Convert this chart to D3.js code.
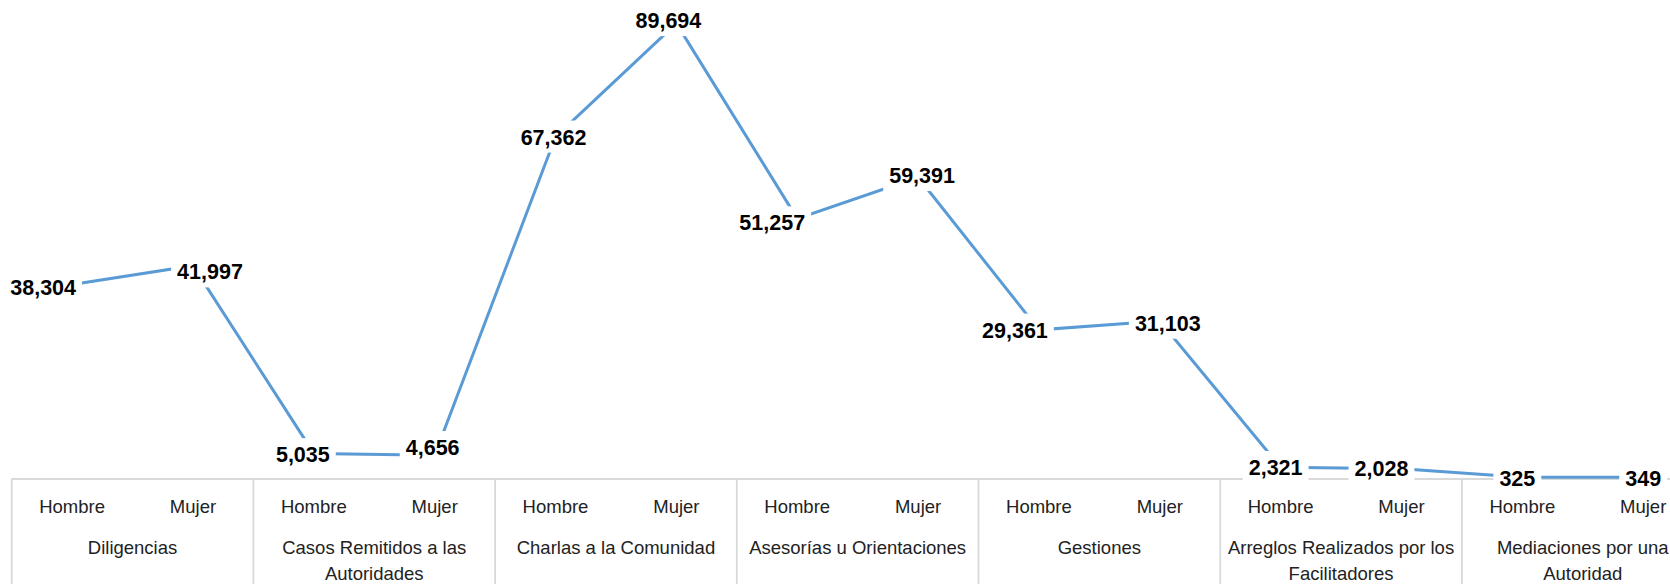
<!DOCTYPE html>
<html lang="es">
<head>
<meta charset="UTF-8">
<title>Chart</title>
<style>
  body { margin: 0; background: #fff; overflow: hidden; }
  .grid { stroke: #d9d9d9; stroke-width: 1.8px; }
  .sub, .cat { font-family: "Liberation Sans", Arial, sans-serif; font-size: 18.5px; fill: #222; }
  .val { font-family: "Liberation Sans", Arial, sans-serif; font-size: 21.5px; font-weight: bold; fill: #000; }
</style>
</head>
<body>
<div id="chart"></div>
<script src="https://d3js.org/d3.v7.min.js"></script>
<script>
// data
var categories = ["Diligencias", "Casos Remitidos a las Autoridades", "Charlas a la Comunidad",
    "Asesorías u Orientaciones", "Gestiones", "Arreglos Realizados por los Facilitadores",
    "Mediaciones por una Autoridad"];
var genders = ["Hombre", "Mujer"];
var hombre = [38304, 5035, 67362, 51257, 29361, 2321, 325];
var mujer = [41997, 4656, 89694, 59391, 31103, 2028, 349];

// hand-placed label nudges (px), like in the original sheet
var labelDx = [-29, 17, -11, -2, -2, -8, -25, 4, -24, 8, -5, -20, -5, 0];
var labelDy = [3, 6, 1, -8, 0, -3, 4, -2, 0, 2, 0, 0, 1, 1];

var W = 1670, H = 584;
var left = 11.7, bandW = 241.7, axisY = 479;

var svg = d3.select("#chart").append("svg")
    .attr("width", W)
    .attr("height", H);

var x0 = d3.scaleBand()
    .domain(categories)
    .range([left, left + bandW * categories.length]);

var x1 = d3.scalePoint()
    .domain(genders)
    .range([0, x0.bandwidth()])
    .padding(0.5);

var y = d3.scaleLinear()
    .domain([0, 100000])
    .range([axisY, axisY - 508]);

// flatten to points
var points = [];
categories.forEach(function (c, i) {
    points.push({ cat: c, g: "Hombre", v: hombre[i] });
    points.push({ cat: c, g: "Mujer", v: mujer[i] });
});
points.forEach(function (d) {
    d.x = x0(d.cat) + x1(d.g);
    d.y = y(d.v);
});

// category table
var table = svg.append("g");
table.append("line").attr("class", "grid")
    .attr("x1", x0.range()[0]).attr("x2", x0.range()[1])
    .attr("y1", axisY).attr("y2", axisY);
table.selectAll(".div").data(categories).enter()
    .append("line").attr("class", "grid")
    .attr("x1", function (d) { return x0(d); })
    .attr("x2", function (d) { return x0(d); })
    .attr("y1", axisY).attr("y2", H);

table.selectAll(".sub").data(points).enter()
    .append("text").attr("class", "sub")
    .attr("x", function (d) { return d.x; })
    .attr("y", 507)
    .attr("dy", "0.35em")
    .attr("text-anchor", "middle")
    .text(function (d) { return d.g; });

var catText = table.selectAll(".cat").data(categories).enter()
    .append("text").attr("class", "cat")
    .attr("x", function (d) { return x0(d) + x0.bandwidth() / 2; })
    .attr("y", 547.5)
    .attr("text-anchor", "middle");

// simple word wrap
catText.each(function (d) {
    var t = d3.select(this), words = d.split(" "), line = [];
    var span = t.append("tspan").attr("x", t.attr("x")).attr("dy", "0.35em");
    words.forEach(function (w) {
        line.push(w);
        span.text(line.join(" "));
        if (span.node().getComputedTextLength() > 234 && line.length > 1) {
            line.pop();
            span.text(line.join(" "));
            line = [w];
            span = t.append("tspan").attr("x", t.attr("x")).attr("dy", "1.38em").text(w);
        }
    });
});

// series line
svg.append("path")
    .datum(points)
    .attr("fill", "none")
    .attr("stroke", "#5b9bd5")
    .attr("stroke-width", 3)
    .attr("d", d3.line().x(function (d) { return d.x; }).y(function (d) { return d.y; }));

// data labels with white boxes over the line
var lab = svg.selectAll(".lab").data(points).enter().append("g")
    .attr("transform", function (d, i) {
        return "translate(" + (d.x + labelDx[i]) + "," + (d.y + labelDy[i]) + ")";
    });
lab.append("text").attr("class", "val")
    .attr("text-anchor", "middle")
    .attr("dy", "0.36em")
    .text(function (d) { return d3.format(",")(d.v); });
lab.insert("rect", "text").each(function () {
    var bb = this.parentNode.querySelector("text").getBBox();
    d3.select(this)
        .attr("x", bb.x - 6).attr("y", bb.y - 5)
        .attr("width", bb.width + 12).attr("height", bb.height + 8)
        .attr("fill", "#fff");
});
</script>
</body>
</html>
